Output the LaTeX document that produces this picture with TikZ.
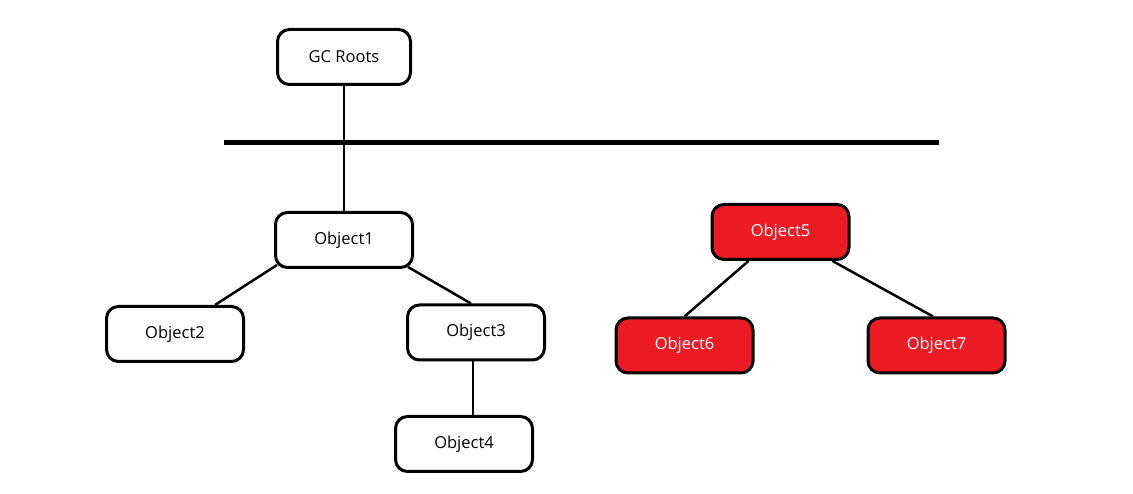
\documentclass[tikz,border=0pt]{standalone}
\usepackage{fontspec}
\setmainfont{Open Sans}
\usetikzlibrary{positioning}

\begin{document}
\begin{tikzpicture}[x=1pt,y=1pt,on grid,
        obj/.style={draw,line width=3pt,rounded corners=12pt,fill=white,
                    minimum width=137pt,minimum height=55pt,
                    font=\fontsize{16.5}{19}\selectfont},
        dead/.style={obj,fill=deadred,text=white},
        link/.style={line width=2.5pt}]
        \definecolor{deadred}{HTML}{ED1C24}
        \useasboundingbox (0,0) rectangle (1133,494);
        \node[obj,minimum width=133pt] (root) at (344,437) {GC Roots};
        \node[obj] (obj1) [below=183pt of root] {Object1};
        \node[obj] (obj2) [below left=94pt and 169pt of obj1] {Object2};
        \node[obj] (obj3) [below right=92.5pt and 132pt of obj1] {Object3};
        \node[obj] (obj4) [below left=111.5pt and 12pt of obj3] {Object4};
        \node[dead] (obj5) at (780.5,262) {Object5};
        \node[dead] (obj6) [below left=113.5pt and 96pt of obj5] {Object6};
        \node[dead] (obj7) [below right=113.5pt and 156pt of obj5] {Object7};
        % the bar
        \coordinate (barL) at (224,351);
        \coordinate (barR) at (939,351);
        \draw[line width=5pt] (barL) -- (barR);
        \draw[link] (root) -- (obj1);
        \draw[link] ([xshift=3pt,yshift=4pt]obj1.south west) -- ([xshift=40pt]obj2.north);
        \draw[link] ([xshift=-6pt,yshift=2pt]obj1.south east) -- ([xshift=-5pt]obj3.north);
        \draw[link] ([xshift=-3pt]obj3.south) -- ([xshift=-3pt]obj3.south |- obj4.north);
        \draw[link] ([xshift=-32pt]obj5.south) -- (obj6.north);
        \draw[link] ([xshift=52pt]obj5.south) -- ([xshift=-3.5pt]obj7.north);
\end{tikzpicture}
\end{document}
